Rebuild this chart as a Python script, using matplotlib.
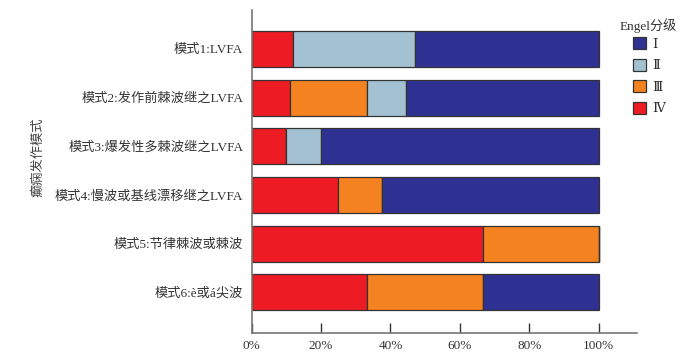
import matplotlib.pyplot as plt
import numpy as np

plt.rcParams['font.family'] = ['Liberation Serif', 'Noto Sans CJK SC', 'DejaVu Sans']
plt.rcParams['axes.unicode_minus'] = False

# 发作模式
patterns = ['模式1:LVFA', '模式2:发作前棘波继之LVFA', '模式3:爆发性多棘波继之LVFA',
            '模式4:慢波或基线漂移继之LVFA', '模式5:节律棘波或棘波', '模式6:è或á尖波']

# Engel分级百分比 (%)
grade_IV = [11.8, 11.1, 10.0, 25.0, 66.7, 33.3]
grade_III = [0, 22.2, 0, 12.5, 33.3, 33.3]
grade_II = [35.3, 11.1, 10.0, 0, 0, 0]
grade_I = [52.9, 55.6, 80.0, 62.5, 0, 33.4]

series = [('Ⅳ', grade_IV, '#ED1C24'), ('Ⅲ', grade_III, '#F58220'),
          ('Ⅱ', grade_II, '#A3C1D1'), ('Ⅰ', grade_I, '#2E3192')]

fig = plt.figure(figsize=(6.84, 3.57), dpi=100)
ax = fig.add_axes([0.368, 0.067, 0.563, 0.905])

y = np.arange(len(patterns))
left = np.zeros(len(patterns))
handles = {}
for name, vals, col in series:
    vals = np.array(vals, dtype=float)
    b = ax.barh(y, vals, left=left, height=0.74, color=col,
                edgecolor='#333333', linewidth=0.9, label=name)
    handles[name] = b
    left += vals

ax.set_xlim(0, 111)
ax.set_ylim(5.84, -0.80)
ax.set_yticks(y)
ax.set_yticklabels(patterns, fontsize=9.5, color='#333333')
ax.tick_params(axis='y', length=0, pad=6)
ax.set_xticks([0, 20, 40, 60, 80, 100])
ax.set_xticklabels(['0%', '20%', '40%', '60%', '80%', '100%'], fontsize=9.5, color='#333333')
ax.tick_params(axis='x', direction='in', length=7, width=1, color='#333333', pad=5)

for s in ['top', 'right']:
    ax.spines[s].set_visible(False)
for s in ['left', 'bottom']:
    ax.spines[s].set_color('#777777')
    ax.spines[s].set_linewidth(1.2)

fig.text(0.056, 0.56, '癫痫发作模式', rotation=90, ha='center', va='center',
         fontsize=9.5, color='#444444')

# 图例
fig.text(0.906, 0.927, 'Engel分级', ha='left', va='center', fontsize=9.5, color='#333333')
order = ['Ⅰ', 'Ⅱ', 'Ⅲ', 'Ⅳ']
leg = fig.legend([handles[k] for k in order], order, loc='upper left',
                 bbox_to_anchor=(0.925, 0.896), frameon=False, fontsize=9.5,
                 handlelength=1.0, handleheight=1.0, handletextpad=0.5,
                 labelspacing=0.62, borderaxespad=0, borderpad=0)
for t in leg.get_texts():
    t.set_color('#333333')
    t.set_family(['DejaVu Serif', 'Noto Sans CJK SC'])

fig.savefig('out.png', dpi=100, facecolor='white')
